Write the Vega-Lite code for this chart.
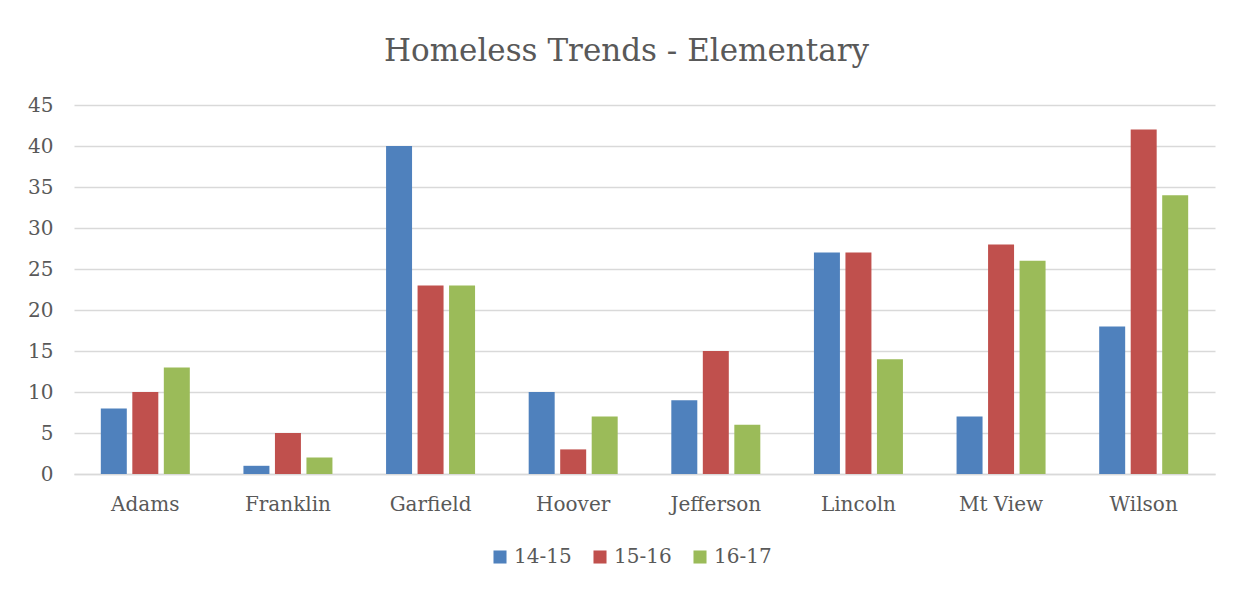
{
  "$schema": "https://vega.github.io/schema/vega-lite/v6.json",
  "autosize": "none",
  "width": 1141,
  "height": 369,
  "padding": {"left": 74, "top": 105, "right": 18, "bottom": 116},
  "background": "white",
  "title": {
    "text": "Homeless Trends - Elementary",
    "font": "DejaVu Serif",
    "fontSize": 31,
    "fontWeight": "normal",
    "color": "#595959",
    "anchor": "middle",
    "dx": -18,
    "offset": 27
  },
  "data": {
    "values": [
      {"school": "Adams", "year": "14-15", "count": 8},
      {"school": "Adams", "year": "15-16", "count": 10},
      {"school": "Adams", "year": "16-17", "count": 13},
      {"school": "Franklin", "year": "14-15", "count": 1},
      {"school": "Franklin", "year": "15-16", "count": 5},
      {"school": "Franklin", "year": "16-17", "count": 2},
      {"school": "Garfield", "year": "14-15", "count": 40},
      {"school": "Garfield", "year": "15-16", "count": 23},
      {"school": "Garfield", "year": "16-17", "count": 23},
      {"school": "Hoover", "year": "14-15", "count": 10},
      {"school": "Hoover", "year": "15-16", "count": 3},
      {"school": "Hoover", "year": "16-17", "count": 7},
      {"school": "Jefferson", "year": "14-15", "count": 9},
      {"school": "Jefferson", "year": "15-16", "count": 15},
      {"school": "Jefferson", "year": "16-17", "count": 6},
      {"school": "Lincoln", "year": "14-15", "count": 27},
      {"school": "Lincoln", "year": "15-16", "count": 27},
      {"school": "Lincoln", "year": "16-17", "count": 14},
      {"school": "Mt View", "year": "14-15", "count": 7},
      {"school": "Mt View", "year": "15-16", "count": 28},
      {"school": "Mt View", "year": "16-17", "count": 26},
      {"school": "Wilson", "year": "14-15", "count": 18},
      {"school": "Wilson", "year": "15-16", "count": 42},
      {"school": "Wilson", "year": "16-17", "count": 34}
    ]
  },
  "mark": {"type": "bar"},
  "encoding": {
    "x": {
      "field": "school",
      "type": "nominal",
      "sort": null,
      "scale": {"paddingInner": 0.376, "paddingOuter": 0.188},
      "axis": {
        "title": null,
        "labelAngle": 0,
        "labelFont": "DejaVu Serif",
        "labelFontSize": 20,
        "labelColor": "#595959",
        "labelPadding": 20,
        "ticks": false,
        "domain": true,
        "domainColor": "#D9D9D9",
        "domainWidth": 1.5
      }
    },
    "xOffset": {
      "field": "year",
      "type": "nominal",
      "scale": {"paddingInner": 0.175, "paddingOuter": 0}
    },
    "y": {
      "field": "count",
      "type": "quantitative",
      "scale": {"domain": [0, 45], "nice": false},
      "axis": {
        "title": null,
        "values": [0, 5, 10, 15, 20, 25, 30, 35, 40, 45],
        "labelFont": "DejaVu Serif",
        "labelFontSize": 20,
        "labelColor": "#595959",
        "labelPadding": 21,
        "ticks": false,
        "domain": false,
        "grid": true,
        "gridColor": "#D9D9D9",
        "gridWidth": 1.5
      }
    },
    "color": {
      "field": "year",
      "type": "nominal",
      "scale": {"domain": ["14-15", "15-16", "16-17"], "range": ["#4F81BD", "#C0504D", "#9BBB59"]},
      "legend": {
        "title": null,
        "orient": "none",
        "direction": "horizontal",
        "legendX": 416,
        "legendY": 442,
        "symbolType": "square",
        "symbolSize": 170,
        "symbolStrokeWidth": 0,
        "labelFont": "DejaVu Serif",
        "labelFontSize": 20,
        "labelColor": "#595959",
        "labelOffset": 4,
        "columnPadding": 18
      }
    }
  },
  "config": {"view": {"stroke": null}}
}
